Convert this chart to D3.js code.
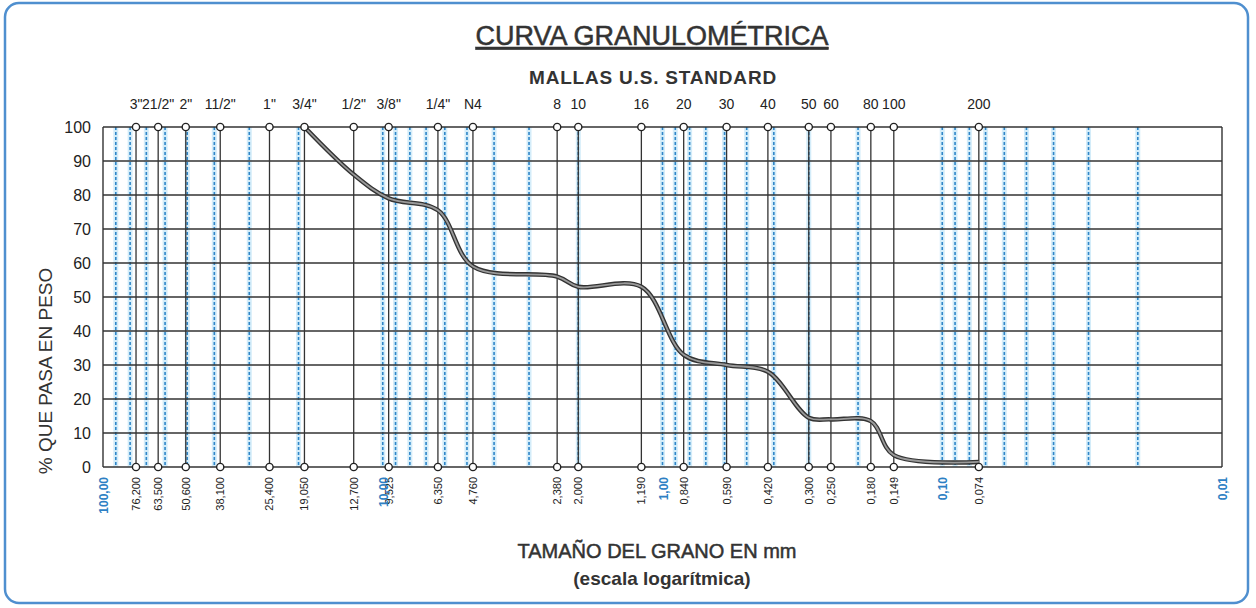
<!DOCTYPE html>
<html>
<head>
<meta charset="utf-8">
<script src="https://cdn.jsdelivr.net/npm/d3@7"></script>
<style>
  body { margin: 0; background: #fff; }
  svg text { font-family: "Liberation Sans", Arial, sans-serif; fill: #222; }
</style>
</head>
<body>
<div id="chart"></div>
<script>
// sieve openings (mm) and their names
const sieveSizes = [76.2, 63.5, 50.6, 38.1, 25.4, 19.05, 12.7, 9.525, 6.35, 4.76,
  2.38, 2.0, 1.19, 0.84, 0.59, 0.42, 0.30, 0.25, 0.18, 0.149, 0.074];
const sieveNames = ["3\"", "21/2\"", "2\"", "11/2\"", "1\"", "3/4\"", "1/2\"", "3/8\"", "1/4\"", "N4",
  "8", "10", "16", "20", "30", "40", "50", "60", "80", "100", "200"];
const sieveLabels = ["76,200", "63,500", "50,600", "38,100", "25,400", "19,050", "12,700", "9,525",
  "6,350", "4,760", "2,380", "2,000", "1,190", "0,840", "0,590", "0,420", "0,300", "0,250",
  "0,180", "0,149", "0,074"];

// grain size curve: sizes (mm) and % passing
const curveSizes = [19.05, 12.7, 9.525, 6.35, 4.76, 2.38, 2.0, 1.19, 0.84, 0.59, 0.42, 0.30, 0.25, 0.18, 0.149, 0.074];
const curvePassing = [100, 86, 79, 75.5, 59, 56, 53, 53, 33, 30, 28, 14.5, 14, 13.5, 3.5, 1.5];

const decades = [100, 10, 1, 0.1, 0.01];
const decadeLabels = ["100,00", "10,00", "1,00", "0,10", "0,01"];
const yTicks = [0, 10, 20, 30, 40, 50, 60, 70, 80, 90, 100];

const width = 1256, height = 608;
const plot = { left: 103, right: 1222, top: 127, bottom: 467 };

const svg = d3.select("#chart").append("svg")
  .attr("width", width)
  .attr("height", height);

// rounded frame
svg.append("rect")
  .attr("x", 5).attr("y", 3)
  .attr("width", 1243).attr("height", 600)
  .attr("rx", 14)
  .attr("fill", "none")
  .attr("stroke", "#4f8fcf")
  .attr("stroke-width", 2.5);

const x = d3.scaleLog().domain([100, 0.01]).range([plot.left, plot.right]);
const y = d3.scaleLinear().domain([0, 100]).range([plot.bottom, plot.top]);

// log minor grid (blue dashed)
const minor = [];
decades.slice(0, 4).forEach(d => {
  for (let k = 1; k <= 9; k++) minor.push(d * k / 10);
});
const minorLines = minor.filter(v => v < 100 && v > 0.01);

svg.append("g").selectAll("line").data(minorLines).enter().append("line")
  .attr("x1", d => x(d)).attr("x2", d => x(d))
  .attr("y1", plot.top).attr("y2", plot.bottom)
  .attr("stroke", "#d3ecf9").attr("stroke-width", 5);

svg.append("g").selectAll("line").data(minorLines).enter().append("line")
  .attr("x1", d => x(d)).attr("x2", d => x(d))
  .attr("y1", plot.top).attr("y2", plot.bottom)
  .attr("stroke", "#2f86c8").attr("stroke-width", 1.6)
  .attr("stroke-dasharray", "3,2");

// horizontal grid
svg.append("g").selectAll("line").data(yTicks).enter().append("line")
  .attr("x1", plot.left).attr("x2", plot.right)
  .attr("y1", d => y(d)).attr("y2", d => y(d))
  .attr("stroke", "#333").attr("stroke-width", 1.4);

// plot borders left/right
[plot.left, plot.right].forEach(px => {
  svg.append("line")
    .attr("x1", px).attr("x2", px)
    .attr("y1", plot.top).attr("y2", plot.bottom)
    .attr("stroke", "#333").attr("stroke-width", 1.4);
});

// sieve lines
svg.append("g").selectAll("line").data(sieveSizes).enter().append("line")
  .attr("x1", d => x(d)).attr("x2", d => x(d))
  .attr("y1", plot.top).attr("y2", plot.bottom)
  .attr("stroke", "#333").attr("stroke-width", 1.3);

// y labels
svg.append("g").selectAll("text").data(yTicks).enter().append("text")
  .attr("x", 91).attr("y", d => y(d) + 6)
  .attr("text-anchor", "end")
  .attr("font-size", 16)
  .text(d => d);

// curve
const line = d3.line()
  .x((d, i) => x(curveSizes[i]))
  .y(d => y(d))
  .curve(d3.curveCatmullRom.alpha(0.5));

svg.append("path").datum(curvePassing)
  .attr("d", line)
  .attr("fill", "none")
  .attr("stroke", "#333")
  .attr("stroke-width", 4.5);
svg.append("path").datum(curvePassing)
  .attr("d", line)
  .attr("fill", "none")
  .attr("stroke", "#9a9a9a")
  .attr("stroke-width", 1.8);

// sieve circles top & bottom
[plot.top, plot.bottom].forEach(cy => {
  svg.append("g").selectAll("circle").data(sieveSizes).enter().append("circle")
    .attr("cx", d => x(d)).attr("cy", cy).attr("r", 3.6)
    .attr("fill", "#fff").attr("stroke", "#222").attr("stroke-width", 1.4);
});

// top sieve names
svg.append("g").selectAll("text").data(sieveNames).enter().append("text")
  .attr("x", (d, i) => x(sieveSizes[i]))
  .attr("y", 109)
  .attr("text-anchor", "middle")
  .attr("font-size", 14)
  .text(d => d);

// bottom sieve sizes (rotated)
svg.append("g").selectAll("text").data(sieveLabels).enter().append("text")
  .attr("transform", (d, i) => `translate(${x(sieveSizes[i]) + 4},${plot.bottom + 10}) rotate(-90)`)
  .attr("text-anchor", "end")
  .attr("font-size", 11)
  .text(d => d);

// decade labels
svg.append("g").selectAll("text").data(decadeLabels).enter().append("text")
  .attr("transform", (d, i) => `translate(${x(decades[i]) + 5},${plot.bottom + 10}) rotate(-90)`)
  .attr("text-anchor", "end")
  .attr("font-size", 12)
  .attr("font-weight", "bold")
  .style("fill", "#2d7fc4")
  .text(d => d);

// titles
svg.append("text")
  .attr("x", 652).attr("y", 45)
  .attr("text-anchor", "middle")
  .attr("font-size", 27)
  .attr("text-decoration", "underline")
  .style("fill", "#333")
  .style("stroke", "#333").style("stroke-width", 0.5)
  .text("CURVA GRANULOMÉTRICA");

svg.append("text")
  .attr("x", 653).attr("y", 84)
  .attr("text-anchor", "middle")
  .attr("font-size", 19)
  .attr("font-weight", "bold")
  .attr("letter-spacing", 0.8)
  .style("fill", "#333")
  .text("MALLAS U.S. STANDARD");

svg.append("text")
  .attr("x", 657).attr("y", 558)
  .attr("text-anchor", "middle")
  .attr("font-size", 20)
  .style("fill", "#333")
  .style("stroke", "#333").style("stroke-width", 0.5)
  .text("TAMAÑO DEL GRANO EN mm");

svg.append("text")
  .attr("x", 662).attr("y", 585)
  .attr("text-anchor", "middle")
  .attr("font-size", 19)
  .attr("font-weight", "bold")
  .style("fill", "#333")
  .text("(escala logarítmica)");

svg.append("text")
  .attr("transform", "translate(52,371) rotate(-90)")
  .attr("text-anchor", "middle")
  .attr("font-size", 19)
  .style("fill", "#333")
  .text("% QUE PASA EN PESO");
</script>
</body>
</html>
